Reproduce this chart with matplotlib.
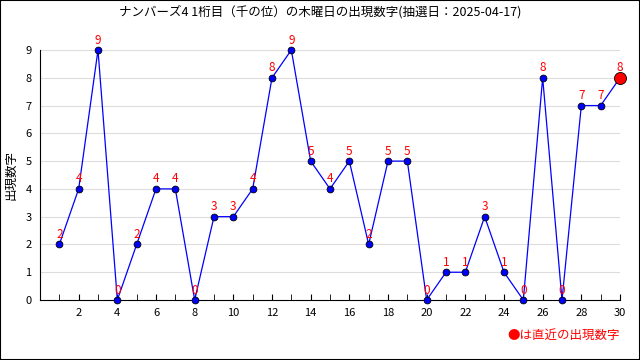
import matplotlib
matplotlib.use("Agg")
import matplotlib.pyplot as plt
from matplotlib.patches import Rectangle

plt.rcParams['font.family'] = ['Noto Sans CJK JP', 'DejaVu Sans']

draws = list(range(1, 31))
values = [2, 4, 9, 0, 2, 4, 4, 0, 3, 3, 4, 8, 9, 5, 4, 5, 2, 5, 5, 0,
          1, 1, 3, 1, 0, 8, 0, 7, 7, 8]
title = "ナンバーズ4 1桁目（千の位）の木曜日の出現数字(抽選日：2025-04-17)"
ylabel = "出現数字"
legend_text = "●は直近の出現数字"

fig = plt.figure(figsize=(6.4, 3.6), dpi=100)
ax = fig.add_axes([40/640, 1-300/360, 580/640, 250/360])

for y in range(1, 10):
    ax.axhline(y, color='#dddddd', lw=0.8, zorder=0)

ax.plot(draws, values, color='blue', lw=0.9, zorder=2, clip_on=False)
ax.scatter(draws[:-1], values[:-1], s=24, color='blue', edgecolors='black',
           linewidths=0.6, zorder=3, clip_on=False)
ax.scatter(draws[-1:], values[-1:], s=75, color='red', edgecolors='black',
           linewidths=0.6, zorder=4, clip_on=False)

for x, v in zip(draws, values):
    ax.annotate(str(v), (x, v), xytext=(0, 2.5), textcoords='offset points',
                ha='center', va='bottom', color='red', fontsize=8.5)

ax.set_xlim(0, 30)
ax.set_ylim(0, 9)
ax.set_xticks(range(2, 31, 2))
ax.set_xticks(range(0, 31), minor=True)
ax.set_yticks(range(0, 10))
ax.tick_params(axis='x', which='both', direction='in', length=4, labelsize=8, pad=6)
ax.tick_params(axis='y', length=0, labelsize=8, pad=6)
for s in ['top', 'right']:
    ax.spines[s].set_visible(False)
ax.spines['left'].set_linewidth(0.8)
ax.spines['bottom'].set_linewidth(0.8)

fig.text(11/640, 1-175/360, ylabel, rotation=90, ha='center', va='center', fontsize=9)
fig.text(0.5, 1-12/360, title, ha='center', va='center', fontsize=9)
fig.text(620/640, 1-335/360, legend_text, ha='right', va='center', fontsize=9, color='red')

fig.patches.append(Rectangle((0, 0), 1, 1, transform=fig.transFigure, fill=False,
                             edgecolor='black', lw=1.5))

fig.savefig("out.png", dpi=100)
